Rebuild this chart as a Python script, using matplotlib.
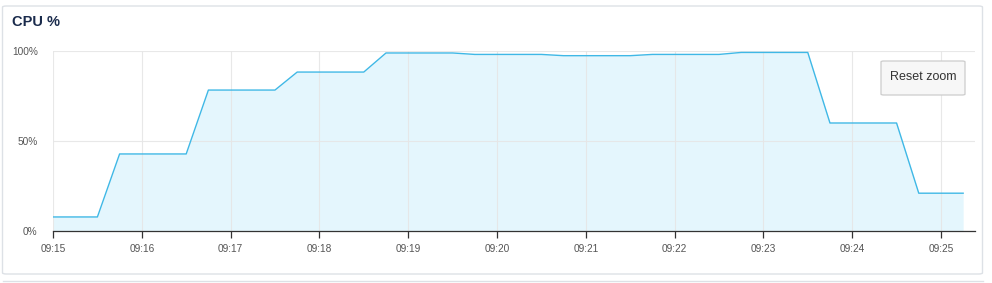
import matplotlib
matplotlib.use("Agg")
import matplotlib.pyplot as plt
import matplotlib.dates as mdates
from matplotlib.patches import FancyBboxPatch
import numpy as np
import pandas as pd

plt.rcParams["font.family"] = ["Liberation Sans", "DejaVu Sans"]

# sample times (seconds after 09:15:00) and CPU usage
seconds = [0, 30, 45, 90, 105, 150, 165, 210, 225, 270, 285,
           330, 345, 390, 405, 450, 465, 510, 525, 570, 585, 615]
cpu = [7.8, 7.8, 42.8, 42.8, 78.3, 78.3, 88.3, 88.3, 98.9, 98.9, 98.1,
       98.1, 97.4, 97.4, 98.1, 98.1, 99.2, 99.2, 60.0, 60.0, 21.0, 21.0]
yticks = [0, 50, 100]
ytick_labels = ["0%", "50%", "100%"]

start = pd.Timestamp("2024-01-01 09:15:00")
times = [start + pd.Timedelta(seconds=s) for s in seconds]
x_end = start + pd.Timedelta(seconds=623)

line_color = "#3fb8e6"
fill_color = "#e4f6fd"
grid_color = "#e6e6e6"

fig = plt.figure(figsize=(9.92, 2.83), dpi=100)

# card background
card = FancyBboxPatch((2.5 / 992, 1 - 274 / 283), 980 / 992, 268 / 283,
                      boxstyle="round,pad=0,rounding_size=0.004",
                      transform=fig.transFigure, facecolor="white",
                      edgecolor="#dde1e6", linewidth=1.0, zorder=-5)
fig.patches.append(card)
fig.add_artist(plt.Line2D([2.5 / 992, 982.5 / 992], [1 - 281 / 283] * 2,
                          transform=fig.transFigure, color="#dde1e6", lw=1.0,
                          zorder=-5))

fig.text(12 / 992, 1 - 22 / 283, "CPU %", fontsize=10.5, fontweight="bold",
         color="#1a2b4c", va="center", ha="left")

ax = fig.add_axes([53 / 992, 1 - 231 / 283, 922 / 992, 180 / 283])
ax.fill_between(times, cpu, 0, color=fill_color, lw=0, zorder=1)
ax.plot(times, cpu, color=line_color, lw=1.0, zorder=3)

ax.set_xlim(start, x_end)
ax.set_ylim(0, 100)
ax.set_yticks(yticks)
ax.set_yticklabels(ytick_labels)
ax.xaxis.set_major_locator(mdates.MinuteLocator())
ax.xaxis.set_major_formatter(mdates.DateFormatter("%H:%M"))

ax.grid(True, color=grid_color, lw=0.8)
for s in ["top", "right", "left"]:
    ax.spines[s].set_visible(False)
ax.spines["bottom"].set_color("#333333")
ax.spines["bottom"].set_linewidth(0.9)
ax.tick_params(axis="x", direction="out", length=5, width=0.9, color="#333333",
               labelsize=7.3, labelcolor="#555555", pad=4)
ax.tick_params(axis="y", length=0, labelsize=7.3, labelcolor="#555555", pad=11)
ax.patch.set_visible(False)

# gridlines drawn over the fill but under the line
for gl in ax.get_xgridlines() + ax.get_ygridlines():
    gl.set_zorder(2)
    gl.set_alpha(0.9)

# reset zoom button
btn = FancyBboxPatch((881 / 992, 1 - 95 / 283), 84 / 992, 34 / 283,
                     boxstyle="round,pad=0,rounding_size=0.003",
                     transform=fig.transFigure, facecolor="#f7f7f7",
                     edgecolor="#cccccc", linewidth=0.9, zorder=5)
fig.add_artist(btn)
fig.text(923 / 992, 1 - 77 / 283, "Reset zoom", fontsize=9, color="#333333",
         ha="center", va="center", zorder=6)

fig.savefig("out.png", dpi=100)
